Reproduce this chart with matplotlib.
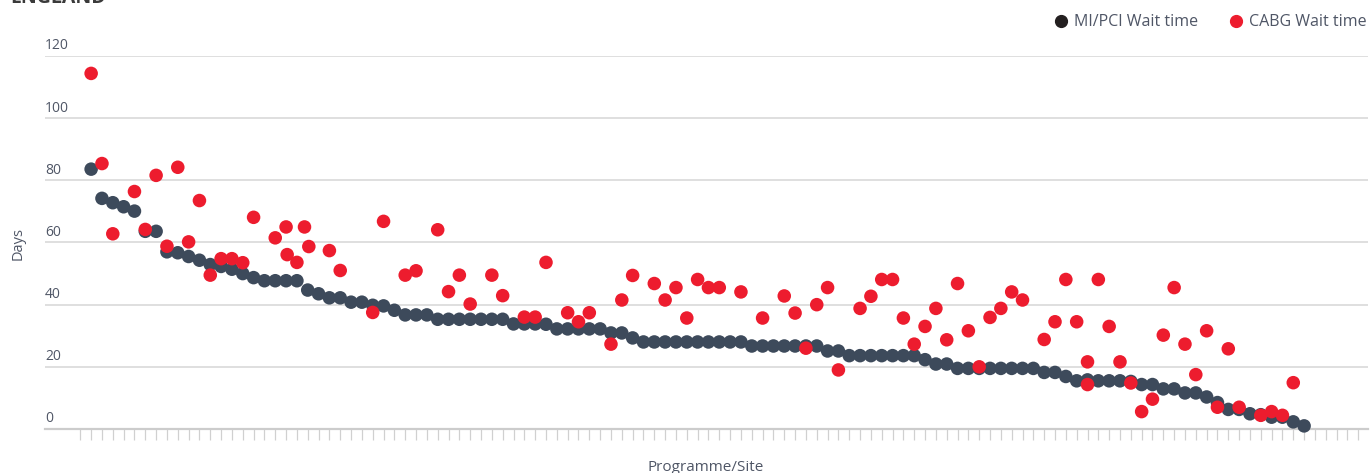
import numpy as np
import matplotlib
matplotlib.use('Agg')
import matplotlib.pyplot as plt
from matplotlib.lines import Line2D
import matplotlib.transforms as mtransforms

# MI/PCI wait time (days) for each programme/site, sorted high to low
mi_pci_wait = [
    83.6, 74.2, 72.8, 71.5, 70.1, 63.6, 63.6, 57.0, 56.7, 55.5,
    54.3, 52.9, 52.3, 51.4, 50.0, 48.7, 47.7, 47.7, 47.7, 47.7,
    44.7, 43.5, 42.2, 42.2, 40.8, 40.8, 39.8, 39.6, 38.2, 36.7,
    36.7, 36.7, 35.3, 35.3, 35.3, 35.3, 35.3, 35.3, 35.3, 33.8,
    33.8, 33.8, 33.7, 32.2, 32.2, 32.2, 32.2, 32.2, 30.9, 30.9,
    29.3, 28.0, 28.0, 28.0, 28.0, 28.0, 28.0, 28.0, 28.0, 28.0,
    28.0, 26.7, 26.7, 26.7, 26.7, 26.7, 26.7, 26.7, 25.1, 25.1,
    23.6, 23.6, 23.6, 23.6, 23.6, 23.6, 23.6, 22.3, 20.9, 20.9,
    19.5, 19.5, 19.5, 19.5, 19.5, 19.5, 19.5, 19.5, 18.2, 18.2,
    16.9, 15.5, 15.8, 15.5, 15.5, 15.5, 15.3, 14.3, 14.3, 12.9,
    12.9, 11.6, 11.6, 10.3, 8.5, 6.3, 6.3, 4.9, 4.6, 3.8,
    3.8, 2.3, 1.0,
]

# CABG wait time: site position and days
cabg_site = [
    0, 1, 2, 4, 5, 6, 7, 8, 9, 10,
    11, 12, 13, 14, 15, 17, 18.0, 18.1, 19, 19.7,
    20.1, 22, 23, 26, 27, 29, 30, 32, 33, 34,
    35, 37, 38, 40, 41, 42, 44, 45, 46, 48,
    49, 50, 52, 53, 54, 55, 56, 57, 58, 60,
    62, 64, 65, 66, 67, 68, 69, 71, 72, 73,
    74, 75, 76, 77, 78, 79, 80, 81, 82, 83,
    84, 85, 86, 88, 89, 90, 91, 92, 92, 93,
    94, 95, 96, 97, 98, 99, 100, 101, 102, 103,
    104, 105, 106, 108, 109, 110, 111,
]
cabg_wait = [
    114.4, 85.4, 62.8, 76.4, 64.2, 81.6, 58.8, 84.2, 60.2, 73.5,
    49.5, 54.8, 54.8, 53.5, 68.1, 61.5, 65.0, 56.1, 53.6, 65.0,
    58.7, 57.4, 51.0, 37.5, 66.8, 49.5, 50.9, 64.1, 44.2, 49.5,
    40.2, 49.5, 42.9, 36.0, 36.0, 53.6, 37.4, 34.5, 37.4, 27.3,
    41.5, 49.4, 46.8, 41.5, 45.5, 35.7, 48.1, 45.5, 45.5, 44.1,
    35.7, 42.8, 37.3, 26.0, 40.0, 45.5, 19.0, 38.8, 42.7, 48.1,
    48.1, 35.7, 27.3, 33.0, 38.8, 28.7, 46.8, 31.6, 20.0, 35.9,
    38.8, 44.1, 41.5, 28.8, 34.5, 48.1, 34.5, 21.6, 14.3, 48.1,
    33.0, 21.6, 14.8, 5.6, 9.6, 30.2, 45.5, 27.3, 17.5, 31.6,
    7.0, 25.8, 7.0, 4.4, 5.6, 4.4, 14.9,
]

y_ticks = [0, 20, 40, 60, 80, 100, 120]
series_names = ['MI/PCI Wait time', 'CABG Wait time']

DARK = '#3d4a5b'
RED = '#ed1c2e'
TEXT = '#4f5666'
GRID = '#d9d9d9'

plt.rcParams['font.family'] = ['Open Sans', 'DejaVu Sans']

fig = plt.figure(figsize=(13.71, 4.73), dpi=100)
ax = fig.add_axes([45 / 1371, 1 - 429 / 473, 1323 / 1371, 373 / 473])

x_mi = np.arange(len(mi_pci_wait)) + 1
x_cabg = np.array(cabg_site) + 1

ax.scatter(x_mi, mi_pci_wait, s=95, color=DARK, edgecolors='none', zorder=3, clip_on=False)
ax.scatter(x_cabg, cabg_wait, s=95, color=RED, edgecolors='none', zorder=4, clip_on=False)

ax.set_xlim(-3.26, 118.9)
ax.set_ylim(0, 120)

for sp in ['top', 'right', 'left']:
    ax.spines[sp].set_visible(False)
ax.spines['bottom'].set_color('#cccccc')
ax.spines['bottom'].set_linewidth(1.6)

ax.set_yticks(y_ticks[1:])
ax.yaxis.grid(True, color=GRID, linewidth=1.2)
ax.set_axisbelow(True)
ax.tick_params(axis='y', length=0, labelleft=False)

ax.set_xticks(np.arange(0, 119))
ax.tick_params(axis='x', direction='out', length=8, width=0.9, color='#d0d0d0', labelbottom=False)

# y labels sit above the gridlines, left aligned
trans = mtransforms.blended_transform_factory(ax.transAxes, ax.transData)
offset = mtransforms.ScaledTranslation(0, 2.5 / 100, fig.dpi_scale_trans)
for v in y_ticks:
    ax.text(0, v, str(v), transform=trans + offset, ha='left', va='bottom',
            fontsize=10, color=TEXT)

fig.text(18 / 1371, 1 - 243 / 473, 'Days', rotation=90, ha='center', va='center',
         fontsize=10.5, color=TEXT)
fig.text(706 / 1371, 1 - 467 / 473, 'Programme/Site', ha='center', va='center',
         fontsize=11, color=TEXT)
fig.text(10 / 1371, 1 - 3 / 473, 'ENGLAND', ha='left', va='baseline',
         fontsize=14, fontweight='bold', color='#3a3a3a')

handles = [
    Line2D([], [], marker='o', linestyle='none', markersize=8.5, color='#231f20'),
    Line2D([], [], marker='o', linestyle='none', markersize=8.5, color=RED),
]
leg = fig.legend(handles, series_names, loc='upper right', ncol=2, frameon=False,
                 bbox_to_anchor=(1381 / 1371, 1 + 0 / 473), fontsize=11.5,
                 handletextpad=0.2, columnspacing=1.8, handlelength=1.2)
for t in leg.get_texts():
    t.set_color(TEXT)

fig.savefig('out.png', dpi=100)
